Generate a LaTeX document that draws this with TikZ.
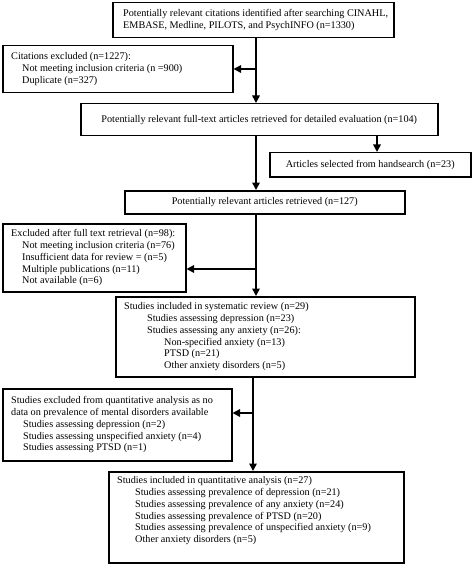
\documentclass[tikz,border=0pt]{standalone}
\usepackage{fontspec}
\setmainfont{Liberation Serif}
\usepackage{tikz}
\usetikzlibrary{arrows.meta}

\tikzset{
 box/.style={draw,line width=1.5pt,inner sep=0pt,anchor=north west,font=\fontsize{10.2}{11.8}\selectfont},
 txt/.style={align=left,inner sep=0pt,font=\fontsize{10.2}{11.8}\selectfont},
 arr/.style={line width=1.5pt,-{Triangle[length=7.5pt,width=7.5pt]}}
}

\begin{document}
\begin{tikzpicture}[x=1pt,y=-1pt]
 \useasboundingbox (0,0) rectangle (474,564);
 \node[box,minimum width=281pt,minimum height=35pt] (search) at (112,2) {};
 \node[txt,anchor=west] (searchT) at ([xshift=11pt]search.west) {Potentially relevant citations identified after searching CINAHL,\\EMBASE, Medline, PILOTS, and PsychINFO (n=1330)};
 \node[box,minimum width=230pt,minimum height=47pt] (excl1) at (2,45) {};
 \node[txt,anchor=west] (excl1T) at ([xshift=9pt]excl1.west) {Citations excluded (n=1227):\\\hspace*{11pt}Not meeting inclusion criteria (n =900)\\\hspace*{11pt}Duplicate (n=327)};
 \node[box,minimum width=357pt,minimum height=32pt] (fulltext) at (80,103) {Potentially relevant full-text articles retrieved for detailed evaluation (n=104)};
 \node[box,minimum width=201pt,minimum height=24pt] (hand) at (269,152) {Articles selected from handsearch (n=23)};
 \node[box,minimum width=280pt,minimum height=23pt] (retr) at (124,190) {Potentially relevant articles retrieved (n=127)};
 \node[box,minimum width=183pt,minimum height=68pt] (excl2) at (2,223) {};
 \node[txt,anchor=west] (excl2T) at ([xshift=9pt]excl2.west) {Excluded after full text retrieval (n=98):\\\hspace*{11pt}Not meeting inclusion criteria (n=76)\\\hspace*{11pt}Insufficient data for review = (n=5)\\\hspace*{11pt}Multiple publications (n=11)\\\hspace*{11pt}Not available (n=6)};
 \node[box,minimum width=299pt,minimum height=80pt] (sysrev) at (115,296) {};
 \node[txt,anchor=west] (sysrevT) at ([xshift=9pt]sysrev.west) {Studies included in systematic review (n=29)\\\hspace*{23pt}Studies assessing depression (n=23)\\\hspace*{23pt}Studies assessing any anxiety (n=26):\\\hspace*{40pt}Non-specified anxiety (n=13)\\\hspace*{40pt}PTSD (n=21)\\\hspace*{40pt}Other anxiety disorders (n=5)};
 \node[box,minimum width=229pt,minimum height=72pt] (excl3) at (2,388) {};
 \node[txt,anchor=west] (excl3T) at ([xshift=9pt]excl3.west) {Studies excluded from quantitative analysis as no\\data on prevalence of mental disorders available\\\hspace*{12pt}Studies assessing depression (n=2)\\\hspace*{12pt}Studies assessing unspecified anxiety (n=4)\\\hspace*{12pt}Studies assessing PTSD (n=1)};
 \node[box,minimum width=295pt,minimum height=91pt] (quant) at (108,471) {};
 \node[txt,anchor=north west] (quantT) at ([shift={(9,5.5)}]quant.north west) {Studies included in quantitative analysis (n=27)\\\hspace*{18pt}Studies assessing prevalence of depression (n=21)\\\hspace*{18pt}Studies assessing prevalence of any anxiety (n=24)\\\hspace*{18pt}Studies assessing prevalence of PTSD (n=20)\\\hspace*{18pt}Studies assessing prevalence of unspecified anxiety (n=9)\\\hspace*{18pt}Other anxiety disorders (n=5)};
 \coordinate (j1) at (256,69);
 \coordinate (hs) at (377,140);
 \coordinate (j3) at (256,269);
 \coordinate (j4) at (253,413);
 \draw[arr] (search.south -| j1) -- (fulltext.north -| j1);
 \draw[arr] (j1) -- (j1 -| excl1.east);
 \draw[arr] (fulltext.south -| j1) -- (retr.north -| j1);
 \draw[arr] (fulltext.south -| hs) -- (hand.north -| hs);
 \draw[arr] (retr.south -| j3) -- (sysrev.north -| j3);
 \draw[arr] (j3) -- (j3 -| excl2.east);
 \draw[arr] (sysrev.south -| j4) -- (quant.north -| j4);
 \draw[arr] (j4) -- (j4 -| excl3.east);
\end{tikzpicture}
\end{document}
